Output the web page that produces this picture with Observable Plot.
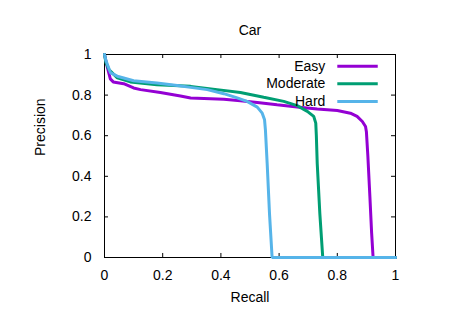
<!DOCTYPE html>
<html>
<head>
<meta charset="utf-8">
<script src="https://cdn.jsdelivr.net/npm/d3@7"></script>
<script src="https://cdn.jsdelivr.net/npm/@observablehq/plot@0.6"></script>
<style>
  html, body { margin: 0; padding: 0; background: white; }
</style>
</head>
<body>
<div id="chart"></div>
<script>
const title = "Car";
const xLabel = "Recall";
const yLabel = "Precision";
const xTicks = [0, 0.2, 0.4, 0.6, 0.8, 1];
const yTicks = [0, 0.2, 0.4, 0.6, 0.8, 1];

const seriesNames = ["Easy", "Moderate", "Hard"];
const seriesColors = ["#9400d3", "#009e73", "#56b4e9"];

const easyRecall    = [0, 0.009, 0.02, 0.03, 0.066, 0.10, 0.124, 0.192, 0.261, 0.296, 0.41, 0.467, 0.525, 0.593, 0.662, 0.731, 0.80, 0.845, 0.868, 0.886, 0.897, 0.90, 0.905, 0.912, 0.918, 0.923, 1];
const easyPrecision = [1, 0.942, 0.88, 0.865, 0.856, 0.835, 0.827, 0.813, 0.796, 0.786, 0.78, 0.772, 0.764, 0.752, 0.741, 0.731, 0.724, 0.711, 0.695, 0.67, 0.645, 0.62, 0.5, 0.3, 0.12, 0, 0];

const modRecall    = [0, 0.005, 0.015, 0.044, 0.089, 0.18, 0.296, 0.387, 0.467, 0.547, 0.616, 0.662, 0.697, 0.719, 0.726, 0.728, 0.731, 0.74, 0.75, 1];
const modPrecision = [1, 0.96, 0.926, 0.885, 0.865, 0.851, 0.843, 0.827, 0.813, 0.789, 0.769, 0.748, 0.72, 0.695, 0.662, 0.6, 0.464, 0.216, 0, 0];

const hardRecall    = [0, 0.005, 0.021, 0.044, 0.10, 0.18, 0.25, 0.296, 0.353, 0.41, 0.456, 0.49, 0.525, 0.542, 0.55, 0.553, 0.559, 0.567, 0.576, 1];
const hardPrecision = [1, 0.97, 0.909, 0.893, 0.871, 0.86, 0.847, 0.838, 0.827, 0.807, 0.786, 0.769, 0.741, 0.711, 0.678, 0.629, 0.464, 0.216, 0, 0];

const toPoints = (r, p) => r.map((x, i) => ({x, y: p[i]}));
const series = [
  toPoints(easyRecall, easyPrecision),
  toPoints(modRecall, modPrecision),
  toPoints(hardRecall, hardPrecision)
];

const tickLenX = 4 / 291;
const tickLenY = 4 / 202;

const legend = seriesNames.map((name, i) => ({name, color: seriesColors[i], y: 0.942 - i * 0.0865}));

const chart = Plot.plot({
  width: 450,
  height: 315,
  marginLeft: 104,
  marginRight: 55,
  marginTop: 54,
  marginBottom: 58,
  style: {fontFamily: "'Liberation Sans', Arial, sans-serif", fontSize: "14px", color: "black", background: "white"},
  x: {domain: [0, 1]},
  y: {domain: [0, 1]},
  marks: [
    Plot.axisX({ticks: xTicks, tickSize: 0, tickPadding: 13, tickFormat: d => String(d), label: null}),
    Plot.axisY({ticks: yTicks, tickSize: 0, tickPadding: 13, tickFormat: d => String(d), label: null}),
    Plot.ruleX(xTicks, {x: d => d, y1: 0, y2: tickLenY, stroke: "black"}),
    Plot.ruleX(xTicks, {x: d => d, y1: 1 - tickLenY, y2: 1, stroke: "black"}),
    Plot.ruleY(yTicks, {y: d => d, x1: 0, x2: tickLenX, stroke: "black"}),
    Plot.ruleY(yTicks, {y: d => d, x1: 1 - tickLenX, x2: 1, stroke: "black"}),
    Plot.frame({stroke: "black"}),
    ...series.map((s, i) => Plot.line(s, {x: "x", y: "y", stroke: seriesColors[i], strokeWidth: 3, strokeLinejoin: "miter"})),
    Plot.text(legend, {x: 0.759, y: "y", text: "name", textAnchor: "end", fill: "black"}),
    Plot.link(legend, {x1: 0.80, x2: 0.939, y1: "y", y2: "y", stroke: "color", strokeWidth: 3}),
    Plot.text([title], {text: d => d, frameAnchor: "top", dy: -29, fill: "black"}),
    Plot.text([xLabel], {text: d => d, frameAnchor: "bottom", dy: 44, fill: "black"}),
    Plot.text([yLabel], {text: d => d, frameAnchor: "left", dx: -64, rotate: -90, fill: "black"})
  ]
});
document.getElementById("chart").appendChild(chart);
</script>
</body>
</html>
